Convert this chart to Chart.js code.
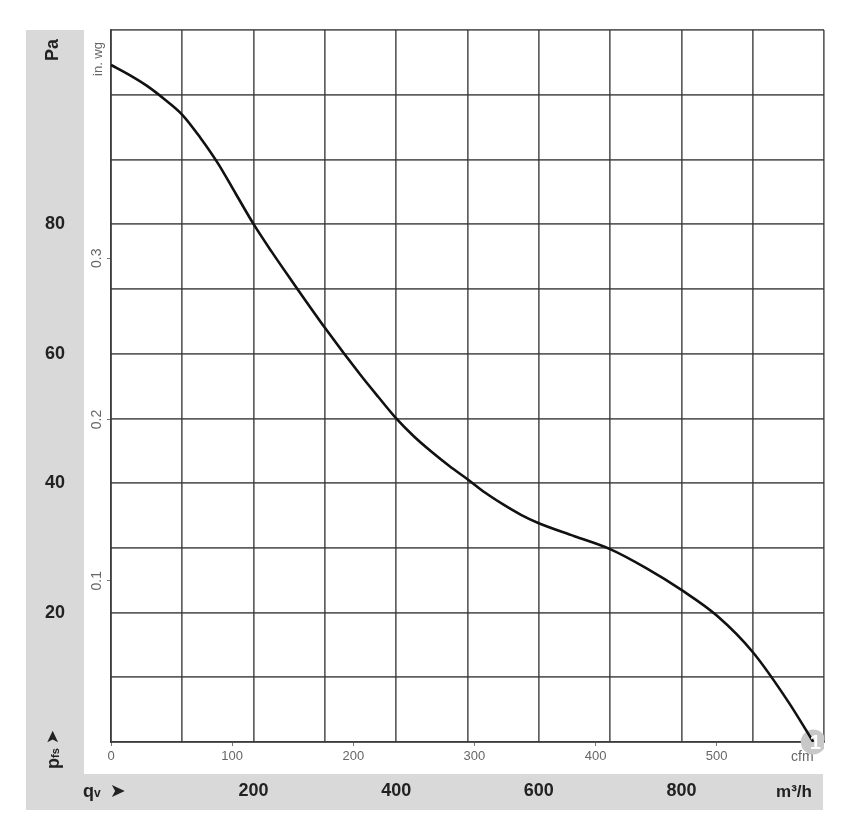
<!DOCTYPE html>
<html>
<head>
<meta charset="utf-8">
<script src="https://cdn.jsdelivr.net/npm/chart.js@4.4.1/dist/chart.umd.min.js"></script>
<style>
  html, body { margin: 0; padding: 0; background: #fff; }
  #wrap { width: 846px; height: 824px; position: relative; }
</style>
</head>
<body>
<div id="wrap"><canvas id="fanChart"></canvas></div>
<script>
// Fan curve: air flow (m³/h) against static pressure (Pa)
const flowM3h = [0, 25, 50, 75, 100, 125, 150, 175, 200, 225, 250, 300, 350, 375, 400, 425, 450, 475, 500, 525, 550, 575, 600, 650, 700, 750, 800, 850, 900, 950, 985];
const pressurePa = [104.6, 103.1, 101.4, 99.3, 96.9, 93.4, 89.4, 84.7, 80, 75.8, 71.8, 64.0, 56.7, 53.3, 50, 47.2, 44.8, 42.6, 40.6, 38.5, 36.7, 35.1, 33.8, 31.8, 29.8, 26.9, 23.5, 19.5, 13.9, 6.2, 0];

// Operating point marker
const pointFlow = [985];
const pointPa = [0];
const pointLabels = ['1'];

// Tick labels
const m3hLabels = [200, 400, 600, 800];
const paLabels = [20, 40, 60, 80];
const cfmTicks = [0, 100, 200, 300, 400, 500];
const inwgTicks = [0.1, 0.2, 0.3];

const M3H_PER_CFM = 1.699;
const PA_PER_INWG = 249.089;
const FLOW_MAX = 1000, PA_MAX = 110;

const BAND = '#d9d9d9';
const GRID = 'rgba(55,55,55,0.8)';
const FONT = "'Liberation Sans', Arial, sans-serif";

function subText(ctx, parts, x, y) {
    // draws "big small" pieces one after another along the current x axis
    let cx = x;
    parts.forEach(p => {
        ctx.font = p.font;
        ctx.fillText(p.text, cx, y + (p.dy || 0));
        cx += ctx.measureText(p.text).width + (p.gap || 0);
    });
}

const decor = {
    id: 'decor',
    beforeDraw(chart) {
        const {ctx, chartArea} = chart;
        const pa = chart.scales.y, qv = chart.scales.x;
        ctx.save();
        ctx.fillStyle = BAND;
        ctx.fillRect(pa.left, chartArea.top, pa.right - pa.left, qv.bottom - chartArea.top);
        ctx.fillRect(pa.left, qv.top, chartArea.right - pa.left - 1, qv.bottom - qv.top);
        ctx.restore();
    },
    beforeDatasetsDraw(chart) {
        const {ctx, chartArea} = chart;
        const pa = chart.scales.y, qv = chart.scales.x, cfm = chart.scales.xcfm, wg = chart.scales.y2;
        const paMid = (pa.left + pa.right) / 2;
        const qvMid = (qv.top + qv.bottom) / 2;
        ctx.save();
        ctx.fillStyle = '#222';
        ctx.textBaseline = 'middle';

        // "Pa" on top of the left band
        ctx.save();
        ctx.translate(paMid - 2, chartArea.top + 20);
        ctx.rotate(-Math.PI / 2);
        ctx.textAlign = 'center';
        ctx.font = 'bold 18px ' + FONT;
        ctx.fillText('Pa', 0, 0);
        ctx.restore();

        // "pfs >" at the bottom of the left band
        ctx.save();
        ctx.translate(paMid - 1, chartArea.bottom + 27);
        ctx.rotate(-Math.PI / 2);
        ctx.textAlign = 'left';
        subText(ctx, [
            {text: 'p', font: 'bold 18px ' + FONT},
            {text: 'fs', font: 'bold 11px ' + FONT, dy: 2, gap: 4},
            {text: '\u27A4', font: '17px "DejaVu Sans"'}
        ], 0, 0);
        ctx.restore();

        // "qv >" at the start of the bottom band
        ctx.textAlign = 'left';
        subText(ctx, [
            {text: 'q', font: 'bold 18px ' + FONT},
            {text: 'v', font: 'bold 12px ' + FONT, dy: 2, gap: 9},
            {text: '\u27A4', font: '19px "DejaVu Sans"'}
        ], pa.left + 57, qvMid);

        // unit labels
        ctx.textAlign = 'center';
        ctx.font = 'bold 17px ' + FONT;
        ctx.fillText('m³/h', chartArea.right - 30, qvMid);

        ctx.fillStyle = '#666';
        ctx.font = '14px ' + FONT;
        ctx.textAlign = 'left';
        ctx.fillText('cfm', chartArea.right - 33, cfm.top + 15);

        ctx.save();
        ctx.translate((wg.left + wg.right) / 2 + 0.5, chartArea.top + 29);
        ctx.rotate(-Math.PI / 2);
        ctx.textAlign = 'center';
        ctx.font = '13px ' + FONT;
        ctx.fillText('in. wg', 0, 0);
        ctx.restore();

        ctx.restore();
    },
    afterDatasetsDraw(chart) {
        const {ctx, chartArea} = chart;
        const meta = chart.getDatasetMeta(1);
        ctx.save();
        ctx.beginPath();
        ctx.rect(0, 0, chartArea.right, chart.height);
        ctx.clip();
        ctx.fillStyle = '#fff';
        ctx.font = 'bold 20px ' + FONT;
        ctx.textAlign = 'center';
        ctx.textBaseline = 'middle';
        meta.data.forEach((el, i) => ctx.fillText(pointLabels[i], el.x + 2, el.y + 1));
        ctx.restore();
    }
};

new Chart(document.getElementById('fanChart'), {
    type: 'line',
    data: {
        datasets: [{
            data: flowM3h.map((x, i) => ({x: x, y: pressurePa[i]})),
            borderColor: '#111',
            borderWidth: 2.6,
            pointRadius: 0,
            cubicInterpolationMode: 'monotone',
            xAxisID: 'x',
            yAxisID: 'y'
        }, {
            data: pointFlow.map((x, i) => ({x: x, y: pointPa[i]})),
            showLine: false,
            pointRadius: 12.5,
            pointBackgroundColor: '#c8c8c8',
            pointBorderWidth: 0,
            xAxisID: 'x',
            yAxisID: 'y',
            clip: {left: 0, top: 0, right: 0, bottom: 20}
        }]
    },
    options: {
        responsive: true,
        maintainAspectRatio: false,
        animation: false,
        layout: {padding: {left: 26, top: 30, right: 22, bottom: 14}},
        plugins: {legend: {display: false}, tooltip: {enabled: false}},
        scales: {
            xcfm: {
                type: 'linear', position: 'bottom', min: 0, max: FLOW_MAX / M3H_PER_CFM,
                afterBuildTicks: s => { s.ticks = cfmTicks.map(v => ({value: v})); },
                afterFit: s => { s.height = 32; },
                grid: {drawOnChartArea: false, tickLength: 4, tickColor: '#777'},
                border: {display: true, color: GRID, width: 1.8},
                ticks: {padding: 2.5, autoSkip: false, maxRotation: 0, color: '#666', font: {family: FONT, size: 13}}
            },
            x: {
                type: 'linear', position: 'bottom', min: 0, max: FLOW_MAX,
                afterFit: s => { s.height = 36; },
                grid: {color: GRID, lineWidth: 1.7, drawTicks: false},
                border: {display: false},
                ticks: {
                    stepSize: 100, autoSkip: false, maxRotation: 0, padding: 6,
                    color: '#222', font: {family: FONT, size: 18, weight: 'bold'},
                    callback: v => m3hLabels.includes(v) ? String(v) : ''
                }
            },
            y2: {
                type: 'linear', position: 'left', min: 0, max: PA_MAX / PA_PER_INWG,
                afterBuildTicks: s => { s.ticks = inwgTicks.map(v => ({value: v})); },
                afterFit: s => { s.width = 27; },
                grid: {drawOnChartArea: false, tickLength: 4, tickColor: '#777'},
                border: {display: true, color: GRID, width: 1.8},
                ticks: {
                    minRotation: 90, maxRotation: 90, crossAlign: 'center', padding: 0.5, autoSkip: false,
                    color: '#666', font: {family: FONT, size: 14},
                    callback: v => v.toFixed(1)
                }
            },
            y: {
                type: 'linear', position: 'left', min: 0, max: PA_MAX,
                afterFit: s => { s.width = 58; },
                grid: {color: GRID, lineWidth: 1.7, drawTicks: false},
                border: {display: false},
                ticks: {
                    stepSize: 10, autoSkip: false, crossAlign: 'center', padding: 19,
                    color: '#222', font: {family: FONT, size: 18, weight: 'bold'},
                    callback: v => paLabels.includes(v) ? String(v) : ''
                }
            }
        }
    },
    plugins: [decor]
});
</script>
</body>
</html>
